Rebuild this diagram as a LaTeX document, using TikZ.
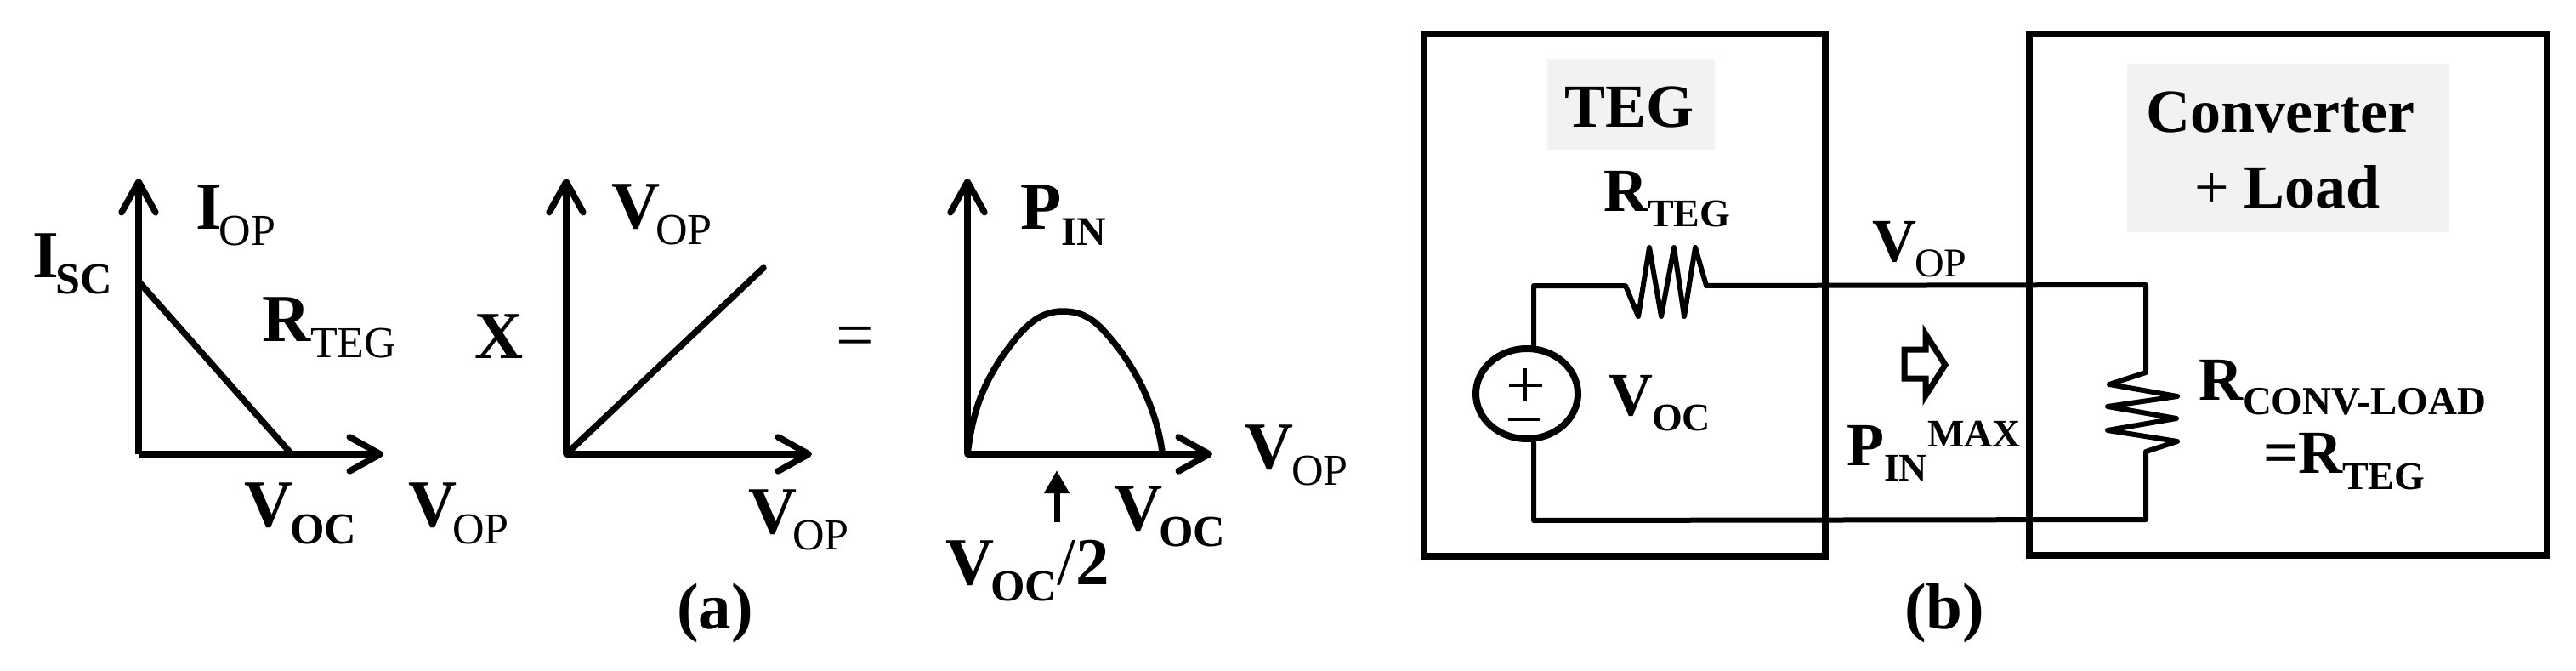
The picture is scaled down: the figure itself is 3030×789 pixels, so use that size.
\documentclass[tikz,border=0pt]{standalone}
\usepackage{fontspec}
\setmainfont{Liberation Serif}
\usetikzlibrary{arrows.meta,shapes.geometric}
\newlength\pxu
\setlength\pxu{.03cm}
% font sizes given in reference pixels
\newcommand{\fpx}[1]{\fontsize{\the\dimexpr#1\pxu\relax}{\the\dimexpr#1\pxu*12/10\relax}\selectfont}
\newcommand{\sbr}[2][19]{\raisebox{-#1\pxu}{\fpx{52}\mdseries #2}}
\newcommand{\sbb}[2][19]{\raisebox{-#1\pxu}{\fpx{52}\bfseries #2}}
\newcommand{\sbi}[2][19]{\raisebox{-#1\pxu}{\fpx{48}\bfseries #2}}
\newcommand{\ssb}[2][18]{\raisebox{-#1\pxu}{\fpx{46}\bfseries #2}}
\newcommand{\ssr}[2][18]{\raisebox{-#1\pxu}{\fpx{48}\mdseries #2}}
\tikzset{
  lbl/.style={anchor=base west,inner sep=0pt,outer sep=0pt,font=\fpx{79}\bfseries},
  lblb/.style={anchor=base west,inner sep=0pt,outer sep=0pt,font=\fpx{72}\bfseries},
  axisline/.style={line width=7.5\pxu,line join=miter,-{Straight Barb[length=1.08cm,width=1.2cm,round]}},
  curveline/.style={line width=7.5\pxu,line cap=round,line join=round},
  boxline/.style={draw,line width=8\pxu,line join=miter},
  wire/.style={line width=6\pxu,line join=round,line cap=round},
  shade/.style={fill=black!5,draw=none,inner sep=0pt,outer sep=0pt},
}
\begin{document}
\begin{tikzpicture}[x=.03cm,y=-.03cm]
\useasboundingbox[fill=white] (0,0) rectangle (3030,789);
% panel (a), graph 1
\coordinate (o1) at (163,534); \coordinate (t1) at (163,210); \coordinate (r1) at (451,534);
\coordinate (c1a) at (163,331); \coordinate (c1b) at (343,534);
\draw[axisline] (o1) -- (t1);
\draw[axisline] (o1) -- (r1);
\draw[curveline] (c1a) -- (c1b);
\node[lbl] (iop) at (230,269) {I\kern-3\pxu\sbr{OP}};
\node[lbl] (isc) at (38,326) {I\kern-3\pxu\sbb{SC}};
\node[lbl] (rteg1) at (308,401) {R\sbr{TEG}};
\node[lbl] (voc1) at (287,619) {V\kern-3\pxu\sbb[20]{OC}};
\node[lbl] (vop1) at (480,619) {V\kern-5\pxu\sbr[20]{OP}};
\node[lbl] (xx) at (558,421) {X};
% graph 2
\coordinate (o2) at (666,534); \coordinate (t2) at (666,210); \coordinate (r2) at (955,534);
\coordinate (c2) at (898,315);
\draw[axisline] (o2) -- (t2);
\draw[axisline] (o2) -- (r2);
\draw[curveline] (o2) -- (c2);
\node[lbl] (vop2) at (719,268) {V\kern-5\pxu\sbr{OP}};
\node[lbl] (vop3) at (880,627) {V\kern-5\pxu\sbr{OP}};
\node[lbl,font=\fpx{79}] (eq) at (983,420) {=};
\node[lbl,font=\fpx{77}\bfseries] (capa) at (796,739) {(a)};
% graph 3
\coordinate (o3) at (1138,534); \coordinate (t3) at (1138,210); \coordinate (r3) at (1426,534);
\draw[axisline] (o3) -- (t3);
\draw[axisline] (o3) -- (r3);
\coordinate (pk) at (1250,366);
\coordinate (e3) at (1367,531);
\draw[curveline] (o3) .. controls (1144,485) and (1155,455) .. (1179,419)
  .. controls (1200,390) and (1218,366) .. (pk)
  .. controls (1278,366) and (1292,380) .. (1312,405)
  .. controls (1336,435) and (1360,480) .. (e3);
\coordinate (ma) at (1243,614); \coordinate (mb) at (1243,553);
\draw[line width=7\pxu,-{Triangle[length=.81cm,width=.84cm]}] (ma) -- (mb);
\node[lbl] (pin) at (1200,269) {P\sbi{IN}};
\node[lbl] (vop4) at (1464,551) {V\kern-2\pxu\sbr{OP}};
\node[lbl] (voc2) at (1310,623) {V\kern-4\pxu\sbb{OC}};
\node[lbl] (voc3) at (1112,687) {V\kern-4\pxu\sbb{OC}{\mdseries/}2};
% panel (b)
\node[shade,minimum width=197\pxu,minimum height=107\pxu] (g1) at (1918.5,122.5) {};
\node[shade,minimum width=379\pxu,minimum height=198\pxu] (g2) at (2691.5,174) {};
\node[lblb,anchor=base] (teg) at (1916,150) {TEG};
\node[lblb,anchor=base,align=center] (conv) at (2682.5,156) {Converter};
\node[lblb,anchor=base] (load) at (2690.5,244) {{\mdseries+} Load};
\coordinate (sw) at (1804,336); \coordinate (se) at (1804,612);
\coordinate (tr) at (2524,335); \coordinate (br) at (2524,611);
\node[draw,ellipse,line width=8\pxu,minimum width=120\pxu,minimum height=106\pxu,inner sep=0pt] (src) at (1796,463) {};
\draw[wire] (src.north -| sw) -- (sw) -- (1912,336) -- (1927,372) -- (1940,291) -- (1954,372)
  -- (1969,291) -- (1981,372) -- (1994,291) -- (2007,336) -- (tr) -- (2524,438)
  -- (2481,452) -- (2561,466) -- (2479,478) -- (2560,492) -- (2479,506) -- (2561,519)
  -- (2524,531) -- (br) -- (se) -- (src.south -| se);
\draw[line width=4.5\pxu] (1775,453) -- (1814,453) (1794,433) -- (1794,471) (1774,493) -- (1811,493);
\node[boxline,minimum width=472\pxu,minimum height=614\pxu,inner sep=0pt] (tegbox) at (1911,347) {};
\node[boxline,minimum width=609\pxu,minimum height=613\pxu,inner sep=0pt] (loadbox) at (2691.5,346.5) {};
\draw[line width=7\pxu,line join=miter] (2240,411) -- (2265,411) -- (2265,393) -- (2288,429)
  -- (2265,465) -- (2265,445) -- (2240,445) -- cycle;
\node[lblb] (rteg2) at (1886,248) {R\ssb{TEG}};
\node[lblb] (vop5) at (2202,307) {V\kern-2\pxu\ssr{OP}};
\node[lblb] (voc4) at (1892,488) {V\kern-1\pxu\ssb{OC}};
\node[lblb] (pinm) at (2172,547) {P\ssb{IN}};
\node[lblb,font=\fpx{46}\bfseries] (maxl) at (2267,525) {MAX};
\node[lblb] (rconv) at (2586,470) {R\raisebox{-17\pxu}{\fpx{47}\bfseries CONV-LOAD}};
\node[lblb] (eqr) at (2662,556) {=R\ssb[19]{TEG}};
\node[lbl,font=\fpx{77}\bfseries] (capb) at (2240,739) {(b)};
\end{tikzpicture}
\end{document}
